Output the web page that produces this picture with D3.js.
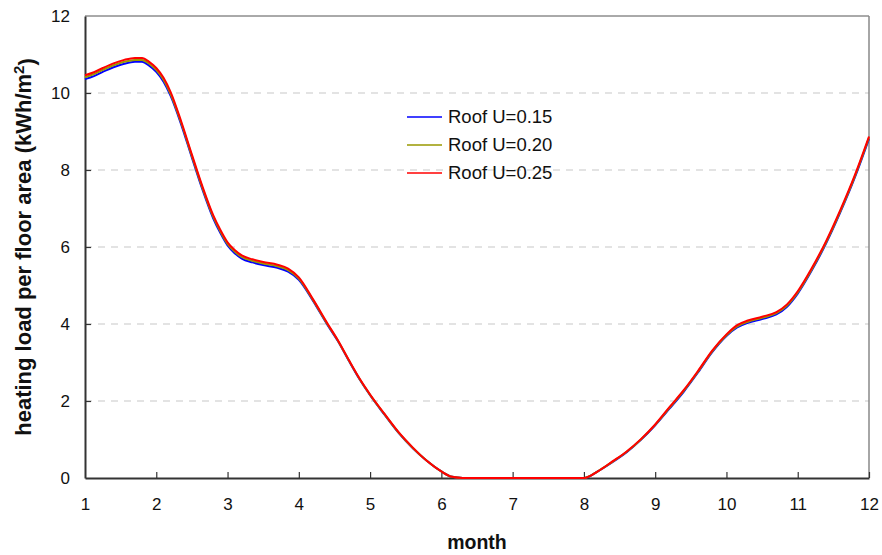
<!DOCTYPE html>
<html>
<head>
<meta charset="utf-8">
<script src="https://cdn.jsdelivr.net/npm/d3@7"></script>
<style>
  html, body { margin: 0; padding: 0; background: #fff; }
  svg { display: block; font-family: "Liberation Sans", Arial, sans-serif; }
</style>
</head>
<body>
<svg id="chart" width="882" height="555"></svg>
<script>
// Month positions (fractional months through the year)
const months = [1.0, 1.125, 1.25, 1.4, 1.55, 1.7, 1.8, 1.9, 2.0, 2.1, 2.2, 2.35, 2.5, 2.65, 2.8, 2.9,
  3.0, 3.1, 3.2, 3.35, 3.5, 3.7, 3.85, 4.0, 4.2, 4.4, 4.55, 4.7, 4.85, 5.0, 5.2, 5.4, 5.6, 5.8,
  6.0, 6.15, 6.3, 6.5, 7.0, 7.5, 8.0, 8.2, 8.4, 8.6, 8.8, 9.0, 9.2, 9.4, 9.6, 9.8, 10.0, 10.15,
  10.3, 10.5, 10.7, 10.85, 11.0, 11.2, 11.4, 11.6, 11.8, 12.0];

// Heating load per floor area (kWh/m2) for each roof U-value
const roof015 = [10.36, 10.44, 10.55, 10.67, 10.76, 10.81, 10.81, 10.71, 10.55, 10.30, 9.93, 9.18, 8.32, 7.48, 6.74, 6.36,
  6.04, 5.84, 5.70, 5.60, 5.53, 5.46, 5.36, 5.15, 4.60, 3.98, 3.55, 3.05, 2.57, 2.15, 1.65, 1.17, 0.77, 0.44,
  0.17, 0.03, 0.0, 0.0, 0.0, 0.0, 0.0, 0.18, 0.41, 0.67, 0.99, 1.37, 1.80, 2.24, 2.74, 3.27, 3.69, 3.91,
  4.03, 4.13, 4.25, 4.45, 4.79, 5.40, 6.10, 6.91, 7.80, 8.81];
const roof020 = [10.41, 10.49, 10.60, 10.72, 10.81, 10.86, 10.86, 10.76, 10.60, 10.35, 9.98, 9.22, 8.36, 7.52, 6.78, 6.40,
  6.08, 5.88, 5.74, 5.64, 5.57, 5.50, 5.40, 5.18, 4.62, 4.00, 3.56, 3.06, 2.58, 2.16, 1.66, 1.18, 0.78, 0.44,
  0.17, 0.03, 0.0, 0.0, 0.0, 0.0, 0.0, 0.18, 0.42, 0.68, 1.00, 1.38, 1.82, 2.26, 2.76, 3.29, 3.71, 3.94,
  4.06, 4.16, 4.28, 4.48, 4.82, 5.43, 6.13, 6.94, 7.83, 8.84];
const roof025 = [10.46, 10.54, 10.65, 10.77, 10.86, 10.91, 10.91, 10.81, 10.65, 10.40, 10.03, 9.26, 8.40, 7.56, 6.82, 6.44,
  6.12, 5.92, 5.78, 5.68, 5.61, 5.54, 5.44, 5.21, 4.64, 4.02, 3.57, 3.07, 2.59, 2.17, 1.67, 1.19, 0.79, 0.44,
  0.17, 0.03, 0.0, 0.0, 0.0, 0.0, 0.0, 0.18, 0.43, 0.69, 1.01, 1.39, 1.84, 2.28, 2.78, 3.31, 3.73, 3.97,
  4.09, 4.19, 4.31, 4.51, 4.85, 5.46, 6.16, 6.97, 7.86, 8.87];

const seriesNames = ["Roof U=0.15", "Roof U=0.20", "Roof U=0.25"];
const seriesColors = ["#0000ff", "#999900", "#ff0000"];
const xTicks = [1, 2, 3, 4, 5, 6, 7, 8, 9, 10, 11, 12];
const yTicks = [0, 2, 4, 6, 8, 10, 12];

const svg = d3.select("#chart");
const plot = { left: 85, right: 869, top: 16, bottom: 478 };

const x = d3.scaleLinear().domain([1, 12]).range([plot.left, plot.right]);
const y = d3.scaleLinear().domain([0, 12]).range([plot.bottom, plot.top]);

// Dashed horizontal gridlines
svg.append("g")
  .selectAll("line")
  .data(yTicks.filter(t => t > 0 && t < 12))
  .join("line")
  .attr("x1", plot.left).attr("x2", plot.right)
  .attr("y1", d => y(d)).attr("y2", d => y(d))
  .attr("stroke", "#c8c8c8")
  .attr("stroke-width", 1.2)
  .attr("stroke-dasharray", "7,6");

// Frame: top and right edges
svg.append("line")
  .attr("x1", plot.left).attr("x2", plot.right)
  .attr("y1", plot.top).attr("y2", plot.top)
  .attr("stroke", "#555").attr("stroke-width", 1);
svg.append("line")
  .attr("x1", plot.right).attr("x2", plot.right)
  .attr("y1", plot.top).attr("y2", plot.bottom)
  .attr("stroke", "#888").attr("stroke-width", 1.5);

// Axes with inward ticks
const xAxis = d3.axisBottom(x).tickValues(xTicks).tickSizeInner(-6).tickSizeOuter(0).tickPadding(20);
const yAxis = d3.axisLeft(y).tickValues(yTicks).tickSizeInner(-6).tickSizeOuter(0).tickPadding(15);

const gx = svg.append("g").attr("transform", `translate(0,${plot.bottom})`).call(xAxis);
const gy = svg.append("g").attr("transform", `translate(${plot.left},0)`).call(yAxis);

[gx, gy].forEach(g => {
  g.select(".domain").attr("stroke", "#333").attr("stroke-width", 2);
  g.selectAll(".tick line").attr("stroke", "#333").attr("stroke-width", 1.2);
  g.selectAll(".tick text")
    .attr("fill", "#111")
    .style("font-size", "17px")
    .style("font-family", "'Liberation Sans', Arial, sans-serif");
});
gy.selectAll(".tick line").filter(d => d === 0 || d === 12).remove();
gx.selectAll(".tick line").filter(d => d === 1).remove();

// Series lines
const allSeries = [roof015, roof020, roof025];
const line = d3.line()
  .x(d => x(d[0]))
  .y(d => y(d[1]))
  .curve(d3.curveMonotoneX);

allSeries.forEach((vals, i) => {
  svg.append("path")
    .datum(months.map((m, j) => [m, vals[j]]))
    .attr("fill", "none")
    .attr("stroke", seriesColors[i])
    .attr("stroke-width", 2)
    .attr("stroke-linejoin", "round")
    .attr("d", line);
});

// Legend
const legend = svg.append("g").attr("transform", "translate(407,117)");
seriesNames.forEach((name, i) => {
  const row = legend.append("g").attr("transform", `translate(0,${i * 28})`);
  row.append("line")
    .attr("x1", 0).attr("x2", 35).attr("y1", 0).attr("y2", 0)
    .attr("stroke", seriesColors[i]).attr("stroke-width", 1.5);
  row.append("text")
    .attr("x", 41).attr("y", 0).attr("dy", "0.35em")
    .attr("fill", "#111")
    .style("font-size", "18.5px")
    .text(name);
});

// Axis titles
svg.append("text")
  .attr("x", (plot.left + plot.right) / 2)
  .attr("y", 549)
  .attr("text-anchor", "middle")
  .style("font-size", "19.5px")
  .style("font-weight", "bold")
  .attr("fill", "#111")
  .text("month");

const yTitle = svg.append("text")
  .attr("transform", `translate(31,${(plot.top + plot.bottom) / 2}) rotate(-90)`)
  .attr("text-anchor", "middle")
  .style("font-size", "22px")
  .style("font-weight", "bold")
  .attr("fill", "#111");
yTitle.append("tspan").text("heating load per floor area (kWh/m");
yTitle.append("tspan").attr("dy", "-0.45em").style("font-size", "15px").text("2");
yTitle.append("tspan").attr("dy", "0.45em").text(")");
</script>
</body>
</html>
